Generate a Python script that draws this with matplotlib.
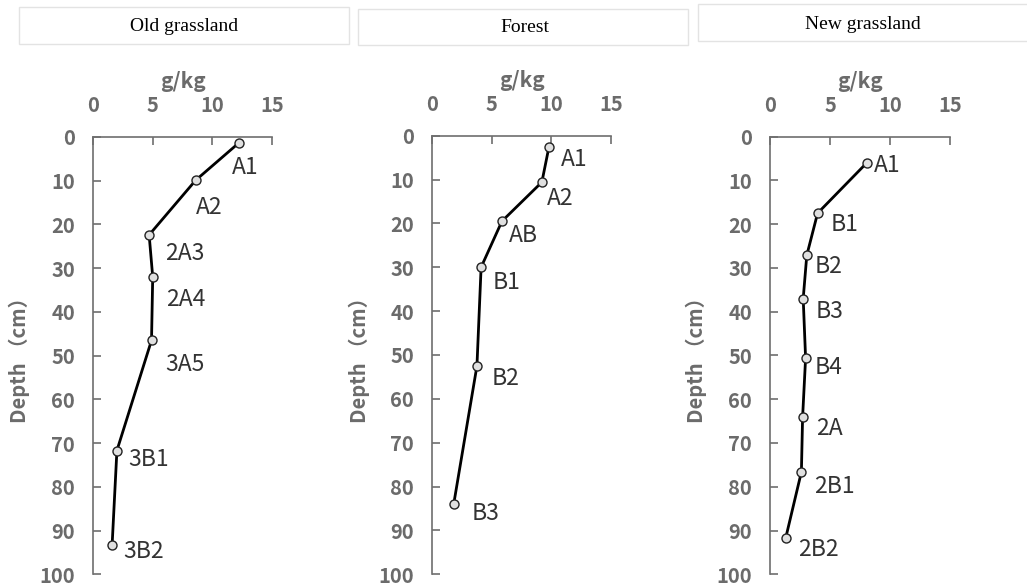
import matplotlib.pyplot as plt
from matplotlib.patches import Rectangle

# ------------------------------------------------------------
# data: content (g/kg) by horizon and depth (cm)
# ------------------------------------------------------------
old_horizons = ['A1', 'A2', '2A3', '2A4', '3A5', '3B1', '3B2']
old_values = [12.2, 8.6, 4.7, 5.0, 4.9, 2.0, 1.6]
old_depths = [1.4, 9.9, 22.4, 32.0, 46.5, 71.7, 93.2]

forest_horizons = ['A1', 'A2', 'AB', 'B1', 'B2', 'B3']
forest_values = [9.8, 9.2, 5.85, 4.1, 3.75, 1.8]
forest_depths = [2.5, 10.6, 19.5, 30.0, 52.5, 84.0]

new_horizons = ['A1', 'B1', 'B2', 'B3', 'B4', '2A', '2B1', '2B2']
new_values = [8.05, 3.95, 3.05, 2.75, 2.95, 2.7, 2.6, 1.3]
new_depths = [6.0, 17.5, 27.1, 37.0, 50.6, 64.1, 76.6, 91.6]

site_names = ['Old grassland', 'Forest', 'New grassland']
x_ticks = [0, 5, 10, 15]
y_ticks = list(range(0, 101, 10))

# label offsets in pixels (right, down) from each point
old_offsets = [(7, 22), (14, 25), (36, 16), (33, 20), (33, 22), (32, 6), (31, 4)]
forest_offsets = [(25, 10), (18, 14), (21, 12), (25, 13), (29, 10), (32, 7)]
new_offsets = [(21, 0), (27, 9), (22, 9), (26, 10), (23, 7), (27, 9), (33, 12), (33, 9)]

sites = [
    (old_horizons, old_values, old_depths, old_offsets),
    (forest_horizons, forest_values, forest_depths, forest_offsets),
    (new_horizons, new_values, new_depths, new_offsets),
]

plt.rcParams['font.family'] = ['Noto Sans CJK JP', 'DejaVu Sans']
axis_grey = '#6b6b6b'
spine_grey = '#6e6e6e'

fig = plt.figure(figsize=(10.27, 5.86), dpi=100)

# header boxes above each panel
boxes = [
    (0.0185, 0.9249, 0.3213, 0.0631, 0.179, 0.954),
    (0.3486, 0.9232, 0.3213, 0.0614, 0.5107, 0.953),
    (0.6796, 0.9292, 0.3400, 0.0640, 0.8398, 0.958),
]
for name, (bx, by, bw, bh, tx, ty) in zip(site_names, boxes):
    fig.patches.append(Rectangle((bx, by), bw, bh, transform=fig.transFigure,
                                 facecolor='white', edgecolor='#e3e3e3', linewidth=1.0))
    fig.text(tx, ty, name, ha='center', va='center', fontsize=14,
             family='Liberation Serif', color='black')

axes_rects = [
    [0.0906, 0.0200, 0.1743, 0.7463],
    [0.4209, 0.0200, 0.1740, 0.7485],
    [0.7500, 0.0200, 0.1750, 0.7468],
]

for rect, (horizons, values, depths, offsets) in zip(axes_rects, sites):
    ax = fig.add_axes(rect)
    ax.plot(values, depths, color='black', linewidth=2.0, marker='o',
            markersize=6.5, markerfacecolor='#e0e0e0', markeredgecolor='#222222',
            markeredgewidth=1.0, zorder=3, clip_on=False)
    for h, v, d, (dx, dy) in zip(horizons, values, depths, offsets):
        ax.annotate(h, (v, d), xytext=(dx, -dy), textcoords='offset pixels',
                    ha='center', va='center_baseline', fontsize=16.5, color='#333333')

    ax.set_xlim(0, 15)
    ax.set_ylim(100, 0)
    ax.set_xticks(x_ticks)
    ax.set_yticks(y_ticks)
    ax.xaxis.tick_top()
    ax.xaxis.set_label_position('top')
    ax.set_xlabel('g/kg', fontsize=15, fontweight='bold', color=axis_grey, labelpad=5)
    ax.set_ylabel('Depth （cm）', fontsize=14.5, fontweight='bold', color=axis_grey)
    ax.yaxis.set_label_coords(-0.35, 0.5)

    ax.tick_params(axis='both', direction='in', length=6, width=1.2, color=spine_grey,
                   labelsize=14.5, labelcolor=axis_grey, pad=13)
    ax.tick_params(axis='x', pad=15)
    for lbl in ax.get_xticklabels() + ax.get_yticklabels():
        lbl.set_fontweight('bold')

    ax.spines['right'].set_visible(False)
    ax.spines['bottom'].set_visible(False)
    for s in ('left', 'top'):
        ax.spines[s].set_color(spine_grey)
        ax.spines[s].set_linewidth(1.2)
    ax.patch.set_alpha(0)

fig.savefig('out.png', dpi=100)
